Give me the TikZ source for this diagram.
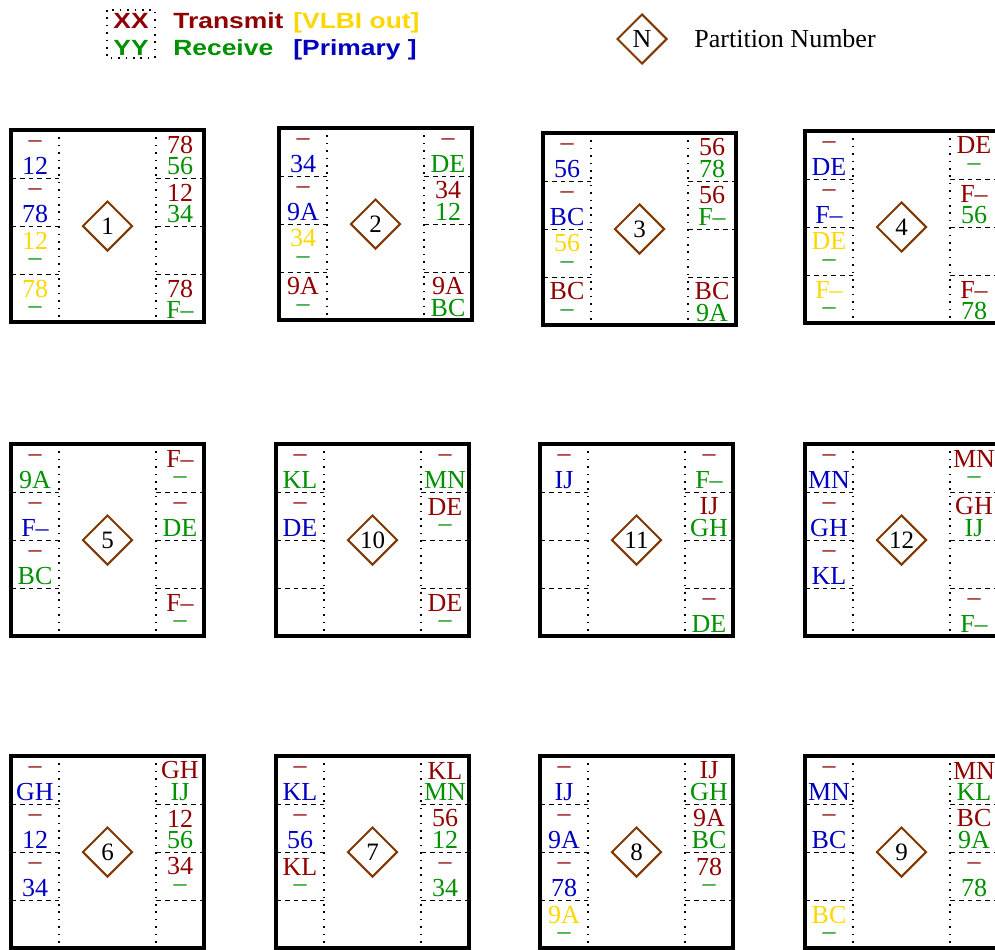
\documentclass[tikz,border=0pt]{standalone}
\usepackage{fontspec}
\setmainfont{Liberation Serif}
\newfontfamily\legendfont{Liberation Sans}[FakeStretch=1.2]
\usetikzlibrary{shapes.geometric}

\definecolor{txred}{RGB}{144,0,0}
\definecolor{rxgreen}{RGB}{0,144,0}
\definecolor{vlbigold}{RGB}{255,215,0}
\definecolor{primblue}{RGB}{0,0,190}
\definecolor{partbrown}{RGB}{128,56,0}

% one partition: name, x, y (top left), number, slot texts
\newcommand{\partbox}[5]{%
  \begin{scope}[shift={(#2,#3)}]
    \draw[frame] (0,0) rectangle (193,192);
    \draw[colsep] (48,0) -- (48,192);
    \draw[colsep] (145,0) -- (145,192);
    \foreach \h in {48,96,144} {
      \draw[slotsep] (0,\h) -- (48,\h);
      \draw[slotsep] (145,\h) -- (193,\h);
    }
    \node[partnum] (#1) at (96.5,96) {#4};
    \foreach \col/\row/\sa/\ta/\sb/\tb in {#5} {
      \node[slottext,\sa] (#1-\col-\row-a) at (\col,\row*48-33.5) {\ta};
      \node[slottext,\sb] (#1-\col-\row-b) at (\col,\row*48-12) {\tb};
    }
  \end{scope}}

\begin{document}
\begin{tikzpicture}[x=0.5pt,y=-0.5pt,
    frame/.style={line width=2pt},
    colsep/.style={line width=0.9pt,dash pattern=on 0.8pt off 2.9pt},
    slotsep/.style={line width=0.5pt,dash pattern=on 2.4pt off 2pt},
    partnum/.style={diamond,draw=partbrown,line width=1pt,minimum width=25pt,
                    minimum height=25pt,inner sep=0pt,font=\fontsize{12.5}{13}\selectfont},
    slottext/.style={inner sep=0pt,font=\fontsize{13}{14}\selectfont},
    legend/.style={inner sep=0pt,anchor=base west,font=\legendfont\bfseries\fontsize{11}{12}\selectfont},
    tx/.style={text=txred},
    rx/.style={text=rxgreen},
    vlbi/.style={text=vlbigold},
    prim/.style={text=primblue}]
\useasboundingbox (0,0) rectangle (995,949);

% legend
\draw[colsep] (107,10) rectangle (155,58);
\node[legend,tx,anchor=base] (keytx) at (131,28) {XX};
\node[legend,rx,anchor=base] (keyrx) at (131,55) {YY};
\node[legend,tx] (transmit) at (173,28) {Transmit};
\node[legend,rx] (receive) at (173,55) {Receive};
\node[legend,vlbi] (vlbiout) at (293,28) {[VLBI out]};
\node[legend,prim] (primary) at (293,55) {[Primary ]};
\node[partnum,font=\fontsize{13}{14}\selectfont] (keynum) at (642,39) {N};
\node[slottext,anchor=base west] (keytext) at (694,47) {Partition Number};

% first row
\partbox{p1}{11}{130}{1}{24/1/tx/--/prim/12, 24/2/tx/--/prim/78, 24/3/vlbi/12/rx/--, 24/4/vlbi/78/rx/--,
  169/1/tx/78/rx/56, 169/2/tx/12/rx/34, 169/4/tx/78/rx/F--}
\partbox{p2}{279}{128}{2}{24/1/tx/--/prim/34, 24/2/tx/--/prim/9A, 24/3/vlbi/34/rx/--, 24/4/tx/9A/rx/--,
  169/1/tx/--/rx/DE, 169/2/tx/34/rx/12, 169/4/tx/9A/rx/BC}
\partbox{p3}{543}{133}{3}{24/1/tx/--/prim/56, 24/2/tx/--/prim/BC, 24/3/vlbi/56/rx/--, 24/4/tx/BC/rx/--,
  169/1/tx/56/rx/78, 169/2/tx/56/rx/F--, 169/4/tx/BC/rx/9A}
\partbox{p4}{805}{131}{4}{24/1/tx/--/prim/DE, 24/2/tx/--/prim/F--, 24/3/vlbi/DE/rx/--, 24/4/vlbi/F--/rx/--,
  169/1/tx/DE/rx/--, 169/2/tx/F--/rx/56, 169/4/tx/F--/rx/78}

% second row
\partbox{p5}{11}{444}{5}{24/1/tx/--/rx/9A, 24/2/tx/--/prim/F--, 24/3/tx/--/rx/BC,
  169/1/tx/F--/rx/--, 169/2/tx/--/rx/DE, 169/4/tx/F--/rx/--}
\partbox{p10}{276}{444}{10}{24/1/tx/--/rx/KL, 24/2/tx/--/prim/DE,
  169/1/tx/--/rx/MN, 169/2/tx/DE/rx/--, 169/4/tx/DE/rx/--}
\partbox{p11}{540}{444}{11}{24/1/tx/--/prim/IJ,
  169/1/tx/--/rx/F--, 169/2/tx/IJ/rx/GH, 169/4/tx/--/rx/DE}
\partbox{p12}{805}{444}{12}{24/1/tx/--/prim/MN, 24/2/tx/--/prim/GH, 24/3/tx/--/prim/KL,
  169/1/tx/MN/rx/--, 169/2/tx/GH/rx/IJ, 169/4/tx/--/rx/F--}

% third row
\partbox{p6}{11}{756}{6}{24/1/tx/--/prim/GH, 24/2/tx/--/prim/12, 24/3/tx/--/prim/34,
  169/1/tx/GH/rx/IJ, 169/2/tx/12/rx/56, 169/3/tx/34/rx/--}
\partbox{p7}{276}{756}{7}{24/1/tx/--/prim/KL, 24/2/tx/--/prim/56, 24/3/tx/KL/rx/--,
  169/1/tx/KL/rx/MN, 169/2/tx/56/rx/12, 169/3/tx/--/rx/34}
\partbox{p8}{540}{756}{8}{24/1/tx/--/prim/IJ, 24/2/tx/--/prim/9A, 24/3/tx/--/prim/78, 24/4/vlbi/9A/rx/--,
  169/1/tx/IJ/rx/GH, 169/2/tx/9A/rx/BC, 169/3/tx/78/rx/--}
\partbox{p9}{805}{756}{9}{24/1/tx/--/prim/MN, 24/2/tx/--/prim/BC, 24/4/vlbi/BC/rx/--,
  169/1/tx/MN/rx/KL, 169/2/tx/BC/rx/9A, 169/3/tx/--/rx/78}
\end{tikzpicture}
\end{document}
